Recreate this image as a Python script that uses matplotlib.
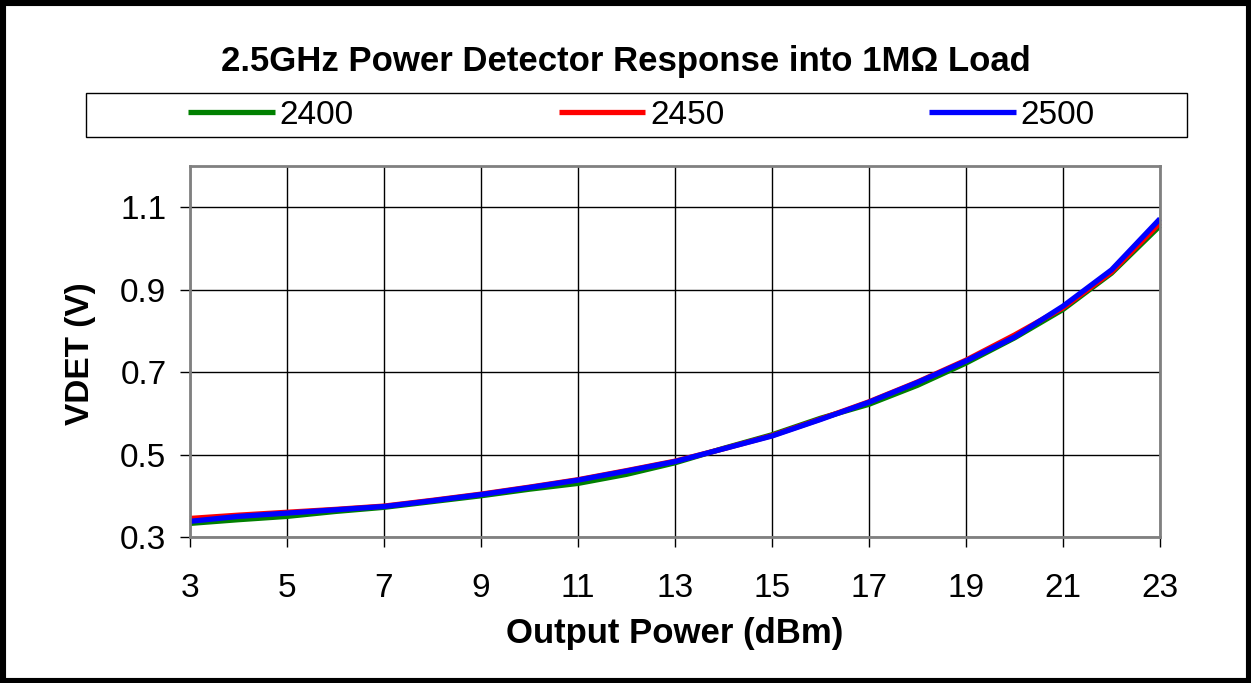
import matplotlib
matplotlib.use("Agg")
import matplotlib.pyplot as plt
from matplotlib.patches import Rectangle

plt.rcParams["font.family"] = ["Liberation Sans", "DejaVu Sans"]

# output power (dBm)
power = [3, 4, 5, 6, 7, 8, 9, 10, 11, 12, 13, 14, 15, 16, 17, 18, 19, 20, 21, 22, 23]

# detector voltage (V) per frequency (MHz)
vdet_2400 = [0.333, 0.342, 0.350, 0.362, 0.372, 0.386, 0.400, 0.416, 0.430, 0.452, 0.480,
             0.515, 0.548, 0.588, 0.622, 0.668, 0.722, 0.783, 0.852, 0.940, 1.055]
vdet_2450 = [0.345, 0.353, 0.360, 0.367, 0.375, 0.389, 0.404, 0.421, 0.439, 0.461, 0.484,
             0.514, 0.546, 0.586, 0.628, 0.676, 0.729, 0.790, 0.856, 0.943, 1.062]
vdet_2500 = [0.338, 0.350, 0.358, 0.366, 0.374, 0.388, 0.403, 0.420, 0.438, 0.460, 0.483,
             0.514, 0.545, 0.585, 0.627, 0.675, 0.727, 0.785, 0.860, 0.948, 1.072]

labels = ["2400", "2450", "2500"]
colors = ["#008000", "#ff0000", "#0000ff"]

xticks = [3, 5, 7, 9, 11, 13, 15, 17, 19, 21, 23]
yticks = [0.3, 0.5, 0.7, 0.9, 1.1]

W, H = 1251, 683
fig = plt.figure(figsize=(W / 100, H / 100), dpi=100)
ax = fig.add_axes([190 / W, 1 - 537 / H, (1160 - 190) / W, (537 - 166) / H])

for vals, lab, col in zip([vdet_2400, vdet_2450, vdet_2500], labels, colors):
    ax.plot(power, vals, color=col, lw=3.8, label=lab, solid_capstyle="butt",
            solid_joinstyle="round", clip_on=False)

ax.set_xlim(3, 23)
ax.set_ylim(0.3, 1.2)
ax.set_xticks(xticks)
ax.set_yticks(yticks)
ax.set_yticklabels([f"{t:g}" for t in yticks])
ax.grid(True, color="black", lw=1)
ax.set_axisbelow(True)
ax.tick_params(direction="out", length=7, width=1, labelsize=24, color="black")
ax.tick_params(axis="x", pad=19)
ax.tick_params(axis="y", pad=10)
for s in ax.spines.values():
    s.set_color("#808080")
    s.set_linewidth(2)

ax.set_xlabel("Output Power (dBm)", fontsize=25, fontweight="bold")
ax.set_ylabel("VDET (V)", fontsize=24, fontweight="bold")
ax.xaxis.set_label_coords(0.5, (537 - 633) / (537 - 166))
ax.xaxis.label.set_va("center")
ax.yaxis.set_label_coords((80 - 190) / (1160 - 190), (537 - 354) / (537 - 166))
ax.yaxis.label.set_va("center")

fig.text(626 / W, 1 - 61 / H, "2.5GHz Power Detector Response into 1M\u03a9 Load",
         ha="center", va="center", fontsize=25, fontweight="bold")

# legend box
fig.add_artist(Rectangle((86 / W, 1 - 137 / H), (1187 - 86) / W, 44 / H,
                         transform=fig.transFigure, fill=False, ec="black", lw=1))
handles, labs = ax.get_legend_handles_labels()
fig.legend(handles, labs, loc="center", ncol=3, mode="expand", frameon=False,
           bbox_to_anchor=(188 / W, 1 - 137 / H, (1095 - 188) / W, 44 / H),
           borderaxespad=0, borderpad=0, fontsize=24, handlelength=2.6,
           handletextpad=0.15)

# outer frame
fig.add_artist(Rectangle((0, 0), 1, 1, transform=fig.transFigure, fill=False,
                         ec="black", lw=8))

fig.savefig("out.png", dpi=100, facecolor="white")
